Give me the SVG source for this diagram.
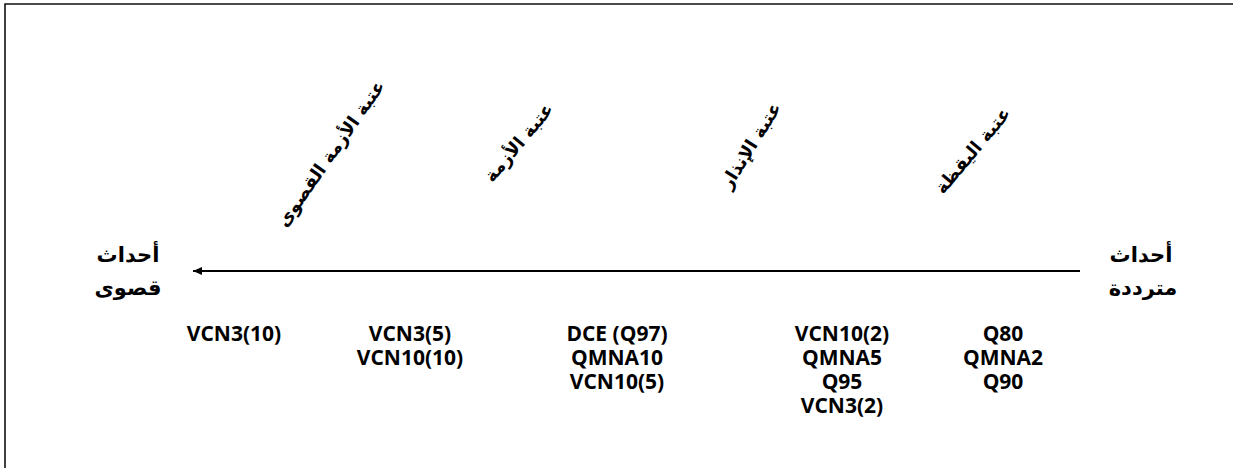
<svg xmlns="http://www.w3.org/2000/svg" width="1233" height="468" viewBox="0 0 1233 468">
<style>
.lat{font-family:"Open Sans","Liberation Sans",sans-serif;font-weight:bold;font-size:21px;fill:#000;text-anchor:middle}
.ar{font-family:"DejaVu Sans","Noto Sans",sans-serif;font-weight:bold;font-size:21px;fill:#000;text-anchor:middle}
.th{font-family:"DejaVu Sans","Noto Sans",sans-serif;font-weight:bold;font-size:18px;fill:#000;text-anchor:middle}
</style>
<defs>
<marker id="ah" markerWidth="10" markerHeight="10" refX="9" refY="5" orient="auto" markerUnits="userSpaceOnUse">
<path d="M0,1 L9,5 L0,9 Z" fill="#000"/>
</marker>
</defs>
<rect x="0" y="0" width="1233" height="468" fill="#fff"/>
<path d="M5,468 L5,4 L1233,4" fill="none" stroke="#111" stroke-width="1.6"/>
<g id="connectors">
<line x1="1080" y1="271" x2="193" y2="271" stroke="#000" stroke-width="2" marker-end="url(#ah)"/>
</g>
<g id="left-end">
<text class="ar" x="128" y="262" direction="rtl">أحداث</text>
<text class="ar" x="128" y="295" direction="rtl">قصوى</text>
</g>
<g id="right-end">
<text class="ar" x="1141" y="262" direction="rtl">أحداث</text>
<text class="ar" x="1143" y="295" direction="rtl">مترددة</text>
</g>
<g id="threshold-extreme">
<text class="th" transform="translate(330,153) rotate(-55)" y="7" direction="rtl">عتبة الأزمة القصوى</text>
</g>
<g id="threshold-crisis">
<text class="th" transform="translate(518,142) rotate(-50)" y="7" direction="rtl">عتبة الأزمة</text>
</g>
<g id="threshold-alert">
<text class="th" transform="translate(750,145) rotate(-58)" y="7" direction="rtl">عتبة الإنذار</text>
</g>
<g id="threshold-vigilance">
<text class="th" transform="translate(972,150) rotate(-50)" y="7" direction="rtl">عتبة اليقظة</text>
</g>
<g id="col1">
<text class="lat" x="234" y="341">VCN3(10)</text>
</g>
<g id="col2">
<text class="lat" x="410" y="341">VCN3(5)</text>
<text class="lat" x="410" y="365">VCN10(10)</text>
</g>
<g id="col3">
<text class="lat" x="617" y="341">DCE (Q97)</text>
<text class="lat" x="617" y="365">QMNA10</text>
<text class="lat" x="617" y="389">VCN10(5)</text>
</g>
<g id="col4">
<text class="lat" x="842" y="341">VCN10(2)</text>
<text class="lat" x="842" y="365">QMNA5</text>
<text class="lat" x="842" y="389">Q95</text>
<text class="lat" x="842" y="413">VCN3(2)</text>
</g>
<g id="col5">
<text class="lat" x="1003" y="341">Q80</text>
<text class="lat" x="1003" y="365">QMNA2</text>
<text class="lat" x="1003" y="389">Q90</text>
</g>
</svg>
